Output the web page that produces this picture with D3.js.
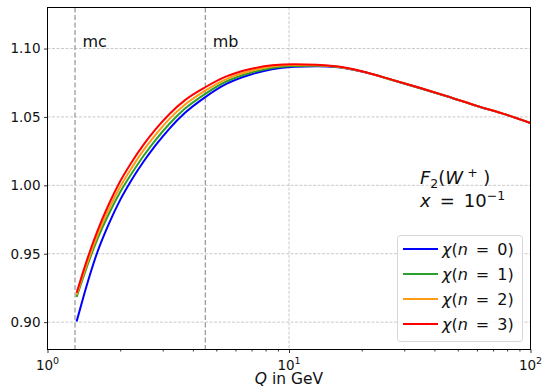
<!DOCTYPE html>
<html>
<head>
<meta charset="utf-8">
<script src="https://cdn.jsdelivr.net/npm/d3@7"></script>
<style>
  body { margin: 0; background: #fff; }
  svg { font-family: "DejaVu Sans", sans-serif; }
</style>
</head>
<body>
<svg id="chart" width="544" height="389"></svg>
<script>
// values
const qValues = [1.32, 1.4, 1.5, 1.6, 1.8, 2.0, 2.2, 2.5, 2.8, 3.2, 3.7, 4.5, 5.5, 7, 8.5, 10.5, 13, 16, 20, 27, 35, 45, 60, 80, 100];
const chi0 = [0.9005, 0.9168, 0.9348, 0.9500, 0.9724, 0.9894, 1.0023, 1.0174, 1.0292, 1.0415, 1.0528, 1.0645, 1.0741, 1.0812, 1.0848, 1.0866, 1.0871, 1.0863, 1.0832, 1.0768, 1.0710, 1.0651, 1.0580, 1.0514, 1.0455];
const chi1 = [0.9184, 0.9318, 0.9468, 0.9596, 0.9796, 0.9951, 1.0070, 1.0216, 1.0331, 1.0450, 1.0559, 1.0669, 1.0759, 1.0825, 1.0858, 1.0872, 1.0875, 1.0865, 1.0833, 1.0768, 1.0710, 1.0651, 1.0580, 1.0514, 1.0455];
const chi2 = [0.9200, 0.9337, 0.9492, 0.9624, 0.9830, 0.9989, 1.0110, 1.0257, 1.0369, 1.0486, 1.0589, 1.0693, 1.0777, 1.0838, 1.0868, 1.0879, 1.0878, 1.0866, 1.0833, 1.0769, 1.0711, 1.0652, 1.0581, 1.0515, 1.0456];
const chi3 = [0.9215, 0.9360, 0.9520, 0.9655, 0.9867, 1.0030, 1.0153, 1.0298, 1.0409, 1.0522, 1.0621, 1.0717, 1.0796, 1.0852, 1.0878, 1.0885, 1.0882, 1.0868, 1.0834, 1.0769, 1.0711, 1.0652, 1.0581, 1.0515, 1.0456];
const seriesNames = ["0", "1", "2", "3"];
const seriesColors = ["#0000ff", "#2ca02c", "#ff9a12", "#ff0000"];
const thresholds = [1.3, 4.5];
const thresholdLabels = ["mc", "mb"];
const yTicks = [0.90, 0.95, 1.00, 1.05, 1.10];
const xTicks = [1, 10, 100];

const svg = d3.select("#chart");
const margin = { top: 7.5, right: 13.5, bottom: 39.5, left: 47.5 };
const innerWidth = +svg.attr("width") - margin.left - margin.right;
const innerHeight = +svg.attr("height") - margin.top - margin.bottom;

const x = d3.scaleLog().domain([1, 100]).range([0, innerWidth]);
const y = d3.scaleLinear().domain([0.88, 1.13]).range([innerHeight, 0]);

const g = svg.append("g").attr("transform", `translate(${margin.left},${margin.top})`);

// grid
g.selectAll(".hgrid").data(yTicks).enter().append("line")
    .attr("x1", 0).attr("x2", innerWidth)
    .attr("y1", d => y(d)).attr("y2", d => y(d))
    .attr("stroke", "#bdbdbd").attr("stroke-width", 0.8).attr("stroke-dasharray", "3,1.5");
g.selectAll(".vgrid").data(xTicks).enter().append("line")
    .attr("x1", d => x(d)).attr("x2", d => x(d))
    .attr("y1", 0).attr("y2", innerHeight)
    .attr("stroke", "#bdbdbd").attr("stroke-width", 0.8).attr("stroke-dasharray", "3,1.5");

// quark mass thresholds
g.selectAll(".thr").data(thresholds).enter().append("line")
    .attr("x1", d => x(d)).attr("x2", d => x(d))
    .attr("y1", 0).attr("y2", innerHeight)
    .attr("stroke", "#7f7f7f").attr("stroke-width", 1).attr("stroke-dasharray", "5,2.5");
g.selectAll(".thrLabel").data(thresholds).enter().append("text")
    .attr("x", d => x(d) + 7.5).attr("y", 39.5)
    .attr("font-size", 16).attr("fill", "#111")
    .text((d, i) => thresholdLabels[i]);

// curves
const allSeries = [chi0, chi1, chi2, chi3];
const line = d3.line()
    .x(d => x(d[0]))
    .y(d => y(d[1]))
    .curve(d3.curveMonotoneX);

allSeries.forEach((vals, i) => {
    g.append("path")
        .datum(qValues.map((q, j) => [q, vals[j]]))
        .attr("fill", "none")
        .attr("stroke", seriesColors[i])
        .attr("stroke-width", 2)
        .attr("d", line);
});

// axes
const xAxis = d3.axisBottom(x).tickValues(xTicks).tickSize(3.5).tickFormat("");
const xMinor = d3.axisBottom(x)
    .tickValues([2, 3, 4, 5, 6, 7, 8, 9, 20, 30, 40, 50, 60, 70, 80, 90])
    .tickSize(2).tickFormat("");
const yAxis = d3.axisLeft(y).tickValues(yTicks).tickSize(3.5).tickPadding(3.5).tickFormat(d3.format(".2f"));

const gx = g.append("g").attr("transform", `translate(0,${innerHeight})`).call(xAxis);
const gm = g.append("g").attr("transform", `translate(0,${innerHeight})`).call(xMinor);
const gy = g.append("g").call(yAxis);
[gx, gm, gy].forEach(a => a.select(".domain").remove());
gx.selectAll("text").remove();
gm.selectAll("text").remove();
g.selectAll(".tick line").attr("stroke", "#000").attr("stroke-width", 0.8);
gy.selectAll(".tick text").attr("font-size", 13.5).attr("fill", "#111").attr("font-family", "DejaVu Sans");

// x tick labels as powers of ten
xTicks.forEach(t => {
    const tx = g.append("text")
        .attr("x", x(t)).attr("y", innerHeight + 20)
        .attr("text-anchor", "middle")
        .attr("font-size", 13.5).attr("fill", "#111");
    tx.append("tspan").text("10");
    tx.append("tspan").attr("font-size", 9.5).attr("dy", -5.5).text(Math.round(Math.log10(t)));
});

// frame
g.append("rect")
    .attr("width", innerWidth).attr("height", innerHeight)
    .attr("fill", "none").attr("stroke", "#000").attr("stroke-width", 1);

// axis title
const xt = svg.append("text")
    .attr("x", margin.left + innerWidth / 2).attr("y", 384)
    .attr("text-anchor", "middle").attr("font-size", 15.5).attr("fill", "#111");
xt.append("tspan").attr("font-style", "italic").text("Q");
xt.append("tspan").text(" in GeV");

// annotation
const a1 = svg.append("text").attr("x", 420).attr("y", 184).attr("font-size", 18).attr("fill", "#111");
a1.append("tspan").attr("font-style", "italic").text("F");
a1.append("tspan").attr("font-size", 12.5).attr("dy", 4).text("2");
a1.append("tspan").attr("dy", -4).text("(");
a1.append("tspan").attr("font-style", "italic").text("W");
a1.append("tspan").attr("font-size", 12.5).attr("dy", -7).text(" +");
a1.append("tspan").attr("dy", 7).text(" )");
const a2 = svg.append("text").attr("x", 420).attr("y", 206.5).attr("font-size", 18).attr("fill", "#111");
a2.append("tspan").attr("font-style", "italic").text("x");
a2.append("tspan").text("\u2002=\u200210");
a2.append("tspan").attr("font-size", 12.5).attr("dy", -7).text("\u22121");

// legend
const legend = svg.append("g");
legend.append("rect")
    .attr("x", 397.5).attr("y", 235.5).attr("width", 125).attr("height", 106)
    .attr("rx", 3).attr("fill", "#fff").attr("fill-opacity", 0.8)
    .attr("stroke", "#d6d6d6").attr("stroke-width", 1);
seriesNames.forEach((n, i) => {
    const ly = 249 + i * 25;
    legend.append("line")
        .attr("x1", 403).attr("x2", 438).attr("y1", ly).attr("y2", ly)
        .attr("stroke", seriesColors[i]).attr("stroke-width", 2);
    const lt = legend.append("text")
        .attr("x", 442).attr("y", ly + 5.5)
        .attr("font-size", 16).attr("fill", "#111");
    lt.append("tspan").attr("font-style", "italic").text("\u03c7");
    lt.append("tspan").text("(");
    lt.append("tspan").attr("font-style", "italic").text("n");
    lt.append("tspan").text("\u2002=\u2002" + n + ")");
});
</script>
</body>
</html>
